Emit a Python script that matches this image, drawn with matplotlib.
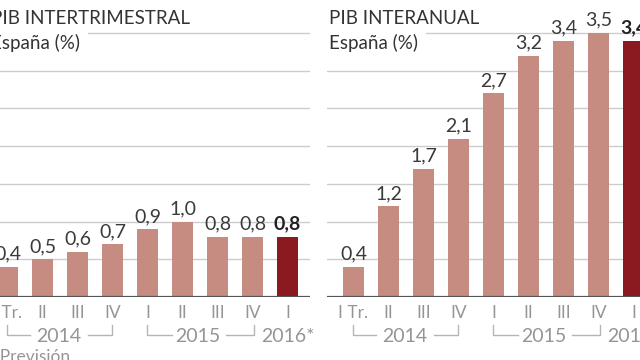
import matplotlib.pyplot as plt
from matplotlib.transforms import offset_copy

plt.rcParams['font.family'] = ['Lato', 'DejaVu Sans']

# data
quarters = ["I Tr.", "II", "III", "IV", "I", "II", "III", "IV", "I"]
intertrimestral = [0.4, 0.5, 0.6, 0.7, 0.9, 1.0, 0.8, 0.8, 0.8]
interanual = [0.4, 1.2, 1.7, 2.1, 2.7, 3.2, 3.4, 3.5, 3.4]
years = ["2014", "2015", "2016*"]

light = "#c68b81"
dark = "#8a1a1f"
W, H = 640, 360

fig = plt.figure(figsize=(6.4, 3.6), dpi=100)

base_px = 297
unit_px = (297 - 33) / 3.5
ytop = 3.8
ax_h = ytop * unit_px


def make_panel(left_px, values, title, sub, title_x):
    ax = fig.add_axes([left_px / W, (H - base_px) / H, 329 / W, ax_h / H])
    ax.set_xlim(-0.757, 8.643)
    ax.set_ylim(0, ytop)
    for s in ax.spines.values():
        s.set_visible(False)
    ax.set_xticks([])
    ax.set_yticks([])
    for g in [0.5, 1.0, 1.5, 2.0, 2.5, 3.0, 3.5]:
        ax.axhline(g, color="#cccccc", lw=1, zorder=0)
    ax.axhline(0, color="#555555", lw=1.6, zorder=3)
    x = list(range(len(values)))
    colors = [light] * (len(values) - 1) + [dark]
    ax.bar(x, values, width=0.6, color=colors, zorder=2)
    for i, v in enumerate(values):
        last = i == len(values) - 1
        ax.annotate(f"{v:.1f}".replace(".", ","), (i, v), xytext=(0, 3),
                    textcoords="offset points", ha="center", va="bottom",
                    fontsize=14, color="#222222" if last else "#3a3a3a",
                    fontweight="bold" if last else "normal", zorder=4)
    tr = ax.get_xaxis_transform()
    t_tick = offset_copy(tr, fig=fig, x=0, y=-16, units="dots")
    for i, q in enumerate(quarters):
        ax.text(i, 0, q, transform=t_tick, ha="center", va="center",
                fontsize=12.5, color="#959595", clip_on=False)
    t_year = offset_copy(tr, fig=fig, x=0, y=-40, units="dots")
    ax.text(1.45, 0, years[0], transform=t_year, ha="center", va="center",
            fontsize=14, color="#959595")
    ax.text(5.45, 0, years[1], transform=t_year, ha="center", va="center",
            fontsize=14, color="#959595")
    ax.text(8, 0, years[2], transform=t_year, ha="center", va="center",
            fontsize=14, color="#959595")
    yb0 = -(325 - base_px) / ax_h
    yb1 = -(335 - base_px) / ax_h
    for a, b, c, d in [(0, 0.65, 2.3, 3.0), (4.0, 4.7, 6.25, 7.05)]:
        ax.plot([a, a, b], [yb0, yb1, yb1], color="#b5b5b5", lw=1,
                transform=tr, clip_on=False)
        ax.plot([c, d, d], [yb1, yb1, yb0], color="#b5b5b5", lw=1,
                transform=tr, clip_on=False)
    fig.text(title_x / W, 1 - 18 / H, title, ha="left", va="center",
             fontsize=13.5, color="#333333", zorder=5)
    fig.text(title_x / W, 1 - 43 / H, sub, ha="left", va="center",
             fontsize=13.5, color="#333333", zorder=5,
             bbox=dict(facecolor="white", edgecolor="none", pad=6))
    return ax


make_panel(-19, intertrimestral, "PIB INTERTRIMESTRAL", "España (%)", -9)
make_panel(327, interanual, "PIB INTERANUAL", "España (%)", 329)

fig.text(-12 / W, 1 - 357 / H, "* Previsión", ha="left", va="center",
         fontsize=12.5, color="#959595")

fig.savefig("out.png", dpi=100)
